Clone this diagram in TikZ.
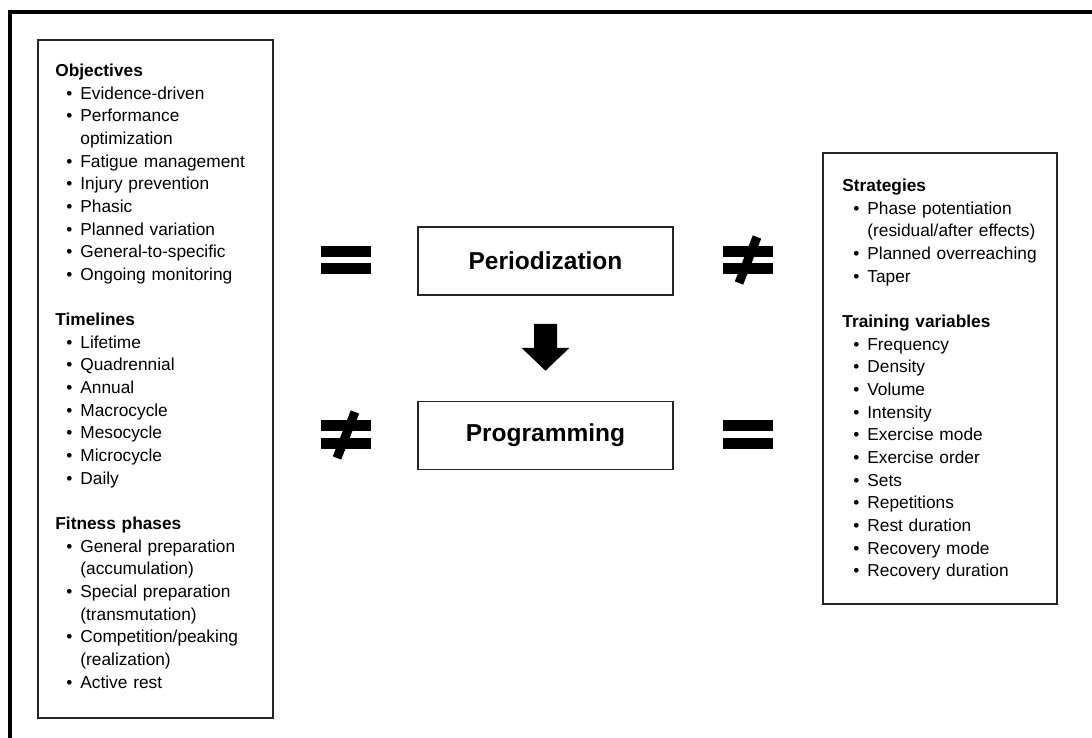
\documentclass[tikz,border=0pt]{standalone}
\usepackage{fontspec}
\setmainfont{Liberation Sans}
\usepackage{tikz}
\usetikzlibrary{positioning, calc}
\setlength{\parindent}{0pt}
\newcommand{\listhead}[1]{\par\textbf{#1}}
\newcommand{\listitem}[1]{\par\hspace*{11pt}\makebox[14pt][l]{\textbullet}#1}
\newcommand{\listcont}[1]{\par\hspace*{25pt}#1}
\newcommand{\listgap}{\par\vspace{22.65pt}}
\tikzset{
    listbox/.style={draw=black!85, line width=1.6pt},
    listtext/.style={anchor=north west, inner sep=0pt, text width=215pt, font=\fontsize{17.3}{22.65}\selectfont},
    stagebox/.style={draw=black!85, line width=1.6pt, minimum width=255pt, minimum height=68pt, font=\fontsize{24.5}{29}\selectfont\bfseries},
    slash/.style={line width=9pt}
}

\begin{document}
\begin{tikzpicture}[x=1pt, y=-1pt]
    \useasboundingbox (0,0) rectangle (1092,738);
    \draw[line width=3.5pt] (1100,12) -- (10,12) -- (10,745);

    % Left list
    \node[listbox, minimum width=235pt, minimum height=678pt] (objbox) at (155.5,379) {};
    \node[listtext] (objtext) at ($(objbox.north west)+(18,14.5)$) {%
        \listhead{Objectives}
        \listitem{Evidence-driven}
        \listitem{Performance}
        \listcont{optimization}
        \listitem{Fatigue management}
        \listitem{Injury prevention}
        \listitem{Phasic}
        \listitem{Planned variation}
        \listitem{General-to-specific}
        \listitem{Ongoing monitoring}
        \listgap
        \listhead{Timelines}
        \listitem{Lifetime}
        \listitem{Quadrennial}
        \listitem{Annual}
        \listitem{Macrocycle}
        \listitem{Mesocycle}
        \listitem{Microcycle}
        \listitem{Daily}
        \listgap
        \listhead{Fitness phases}
        \listitem{General preparation}
        \listcont{(accumulation)}
        \listitem{Special preparation}
        \listcont{(transmutation)}
        \listitem{Competition/peaking}
        \listcont{(realization)}
        \listitem{Active rest}};

    % Right list
    \node[listbox, minimum width=234pt, minimum height=451pt] (varbox) at (940,378.5) {};
    \node[listtext] (vartext) at ($(varbox.north west)+(20,16.6)$) {%
        \listhead{Strategies}
        \listitem{Phase potentiation}
        \listcont{(residual/after effects)}
        \listitem{Planned overreaching}
        \listitem{Taper}
        \listgap
        \listhead{Training variables}
        \listitem{Frequency}
        \listitem{Density}
        \listitem{Volume}
        \listitem{Intensity}
        \listitem{Exercise mode}
        \listitem{Exercise order}
        \listitem{Sets}
        \listitem{Repetitions}
        \listitem{Rest duration}
        \listitem{Recovery mode}
        \listitem{Recovery duration}};

    % Middle
    \node[stagebox] (per) at (545.5,261) {Periodization};
    \node[stagebox] (prog) at (545.5,435.5) {Programming};

    \fill ($(per.south)+(-11.5,28)$) -- ++(23,0) -- ++(0,24) -- ++(12.5,0)
        -- ($(prog.north)+(0,-30)$) -- ($(per.south)+(-24,52)$) -- ++(12.5,0) -- cycle;

    % = and not-equal signs
    \fill (321,246) rectangle (371,257);
    \fill (321,263) rectangle (371,274);

    \fill (723,246) rectangle (773,257);
    \fill (723,263) rectangle (773,274);
    \draw[slash] (757,237) -- (739,283);

    \fill (321,420) rectangle (371,431);
    \fill (321,438) rectangle (371,449);
    \draw[slash] (355,412) -- (337,458);

    \fill (723,420) rectangle (773,431);
    \fill (723,438) rectangle (773,449);
\end{tikzpicture}
\end{document}
